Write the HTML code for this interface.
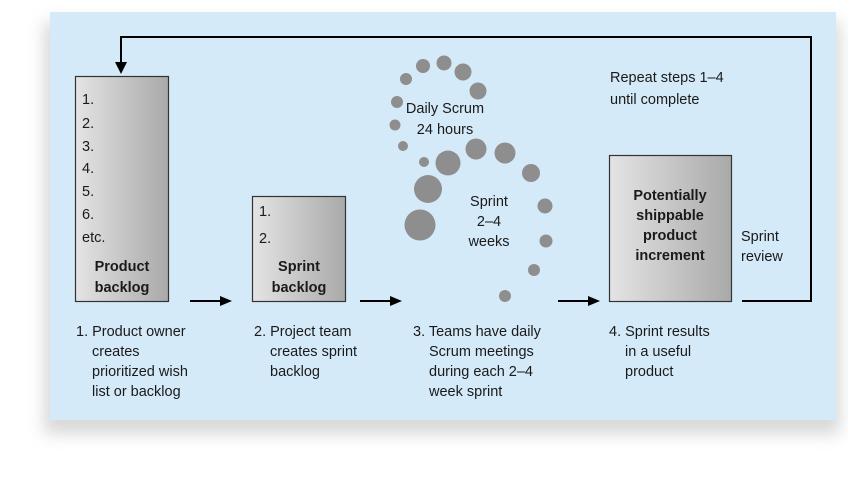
<!DOCTYPE html>
<html><head><meta charset="utf-8"><style>
body{margin:0;background:#fff;}
svg text{font-family:"Liberation Sans",sans-serif;font-size:14.5px;fill:#1a1a1a;}
.b{font-weight:bold;}
</style></head><body>
<svg width="848" height="472" xmlns="http://www.w3.org/2000/svg">
<defs>
<linearGradient id="g" x1="0" x2="1" y1="0" y2="0">
<stop offset="0" stop-color="#e4e4e4"/><stop offset="1" stop-color="#a9a9a9"/></linearGradient>
<filter id="sh" x="-10%" y="-10%" width="130%" height="140%"><feGaussianBlur stdDeviation="8"/></filter>
</defs>
<rect x="44" y="22" width="796" height="412" fill="#c8c8c8" filter="url(#sh)" opacity="0.7"/>
<rect x="50" y="12" width="786" height="408" fill="#d5eaf8"/>
<!-- boxes -->
<rect x="75.5" y="76.5" width="93" height="225" fill="url(#g)" stroke="#333" stroke-width="1.2"/>
<rect x="252.5" y="196.5" width="93" height="105" fill="url(#g)" stroke="#333" stroke-width="1.2"/>
<rect x="609.5" y="155.5" width="122" height="146" fill="url(#g)" stroke="#333" stroke-width="1.2"/>
<!-- loop -->
<polyline points="742,301 811,301 811,37 121,37 121,64" fill="none" stroke="#000" stroke-width="2"/>
<polygon points="115,62 127,62 121,74" fill="#000"/>
<g stroke="#000" stroke-width="2">
<line x1="190" y1="301" x2="222" y2="301"/><line x1="360" y1="301" x2="392" y2="301"/><line x1="558" y1="301" x2="590" y2="301"/></g>
<polygon points="220,296 232,301 220,306" fill="#000"/>
<polygon points="390,296 402,301 390,306" fill="#000"/>
<polygon points="588,296 600,301 588,306" fill="#000"/>
<!-- circles -->
<g fill="#8e8e8e">
<circle cx="406" cy="79" r="6"/><circle cx="423" cy="66" r="7"/><circle cx="444" cy="63" r="7.5"/>
<circle cx="463" cy="72" r="8.5"/><circle cx="478" cy="91" r="8.5"/><circle cx="397" cy="102" r="6"/>
<circle cx="395" cy="125" r="5.5"/><circle cx="403" cy="146" r="5"/><circle cx="424" cy="162" r="5"/>
<circle cx="448" cy="163" r="12.5"/><circle cx="476" cy="149" r="10.5"/><circle cx="505" cy="153" r="10.5"/>
<circle cx="531" cy="173" r="9"/><circle cx="545" cy="206" r="7.5"/><circle cx="546" cy="241" r="6.5"/>
<circle cx="534" cy="270" r="6"/><circle cx="505" cy="296" r="6"/><circle cx="428" cy="189" r="14"/>
<circle cx="420" cy="225" r="15.5"/></g>
<!-- box text -->
<text x="82" y="104">1.</text><text x="82" y="128">2.</text><text x="82" y="151">3.</text>
<text x="82" y="173">4.</text><text x="82" y="196">5.</text><text x="82" y="219">6.</text><text x="82" y="242">etc.</text>
<text class="b" x="122" y="271" text-anchor="middle">Product</text><text class="b" x="122" y="292" text-anchor="middle">backlog</text>
<text x="259" y="216">1.</text><text x="259" y="243">2.</text>
<text class="b" x="299" y="271" text-anchor="middle">Sprint</text><text class="b" x="299" y="292" text-anchor="middle">backlog</text>
<g class="b" text-anchor="middle">
<text class="b" x="670" y="200">Potentially</text><text class="b" x="670" y="220">shippable</text>
<text class="b" x="670" y="240">product</text><text class="b" x="670" y="260">increment</text></g>
<text x="741" y="241">Sprint</text><text x="741" y="261">review</text>
<text x="610" y="82">Repeat steps 1–4</text><text x="610" y="104">until complete</text>
<text x="445" y="113" text-anchor="middle">Daily Scrum</text><text x="445" y="134" text-anchor="middle">24 hours</text>
<text x="489" y="206" text-anchor="middle">Sprint</text><text x="489" y="226" text-anchor="middle">2–4</text><text x="489" y="246" text-anchor="middle">weeks</text>
<!-- captions -->
<text x="76" y="336">1. Product owner</text><text x="92" y="356">creates</text><text x="92" y="376">prioritized wish</text><text x="92" y="396">list or backlog</text>
<text x="254" y="336">2. Project team</text><text x="270" y="356">creates sprint</text><text x="270" y="376">backlog</text>
<text x="413" y="336">3. Teams have daily</text><text x="429" y="356">Scrum meetings</text><text x="429" y="376">during each 2–4</text><text x="429" y="396">week sprint</text>
<text x="609" y="336">4. Sprint results</text><text x="625" y="356">in a useful</text><text x="625" y="376">product</text>
</svg>
</body></html>
